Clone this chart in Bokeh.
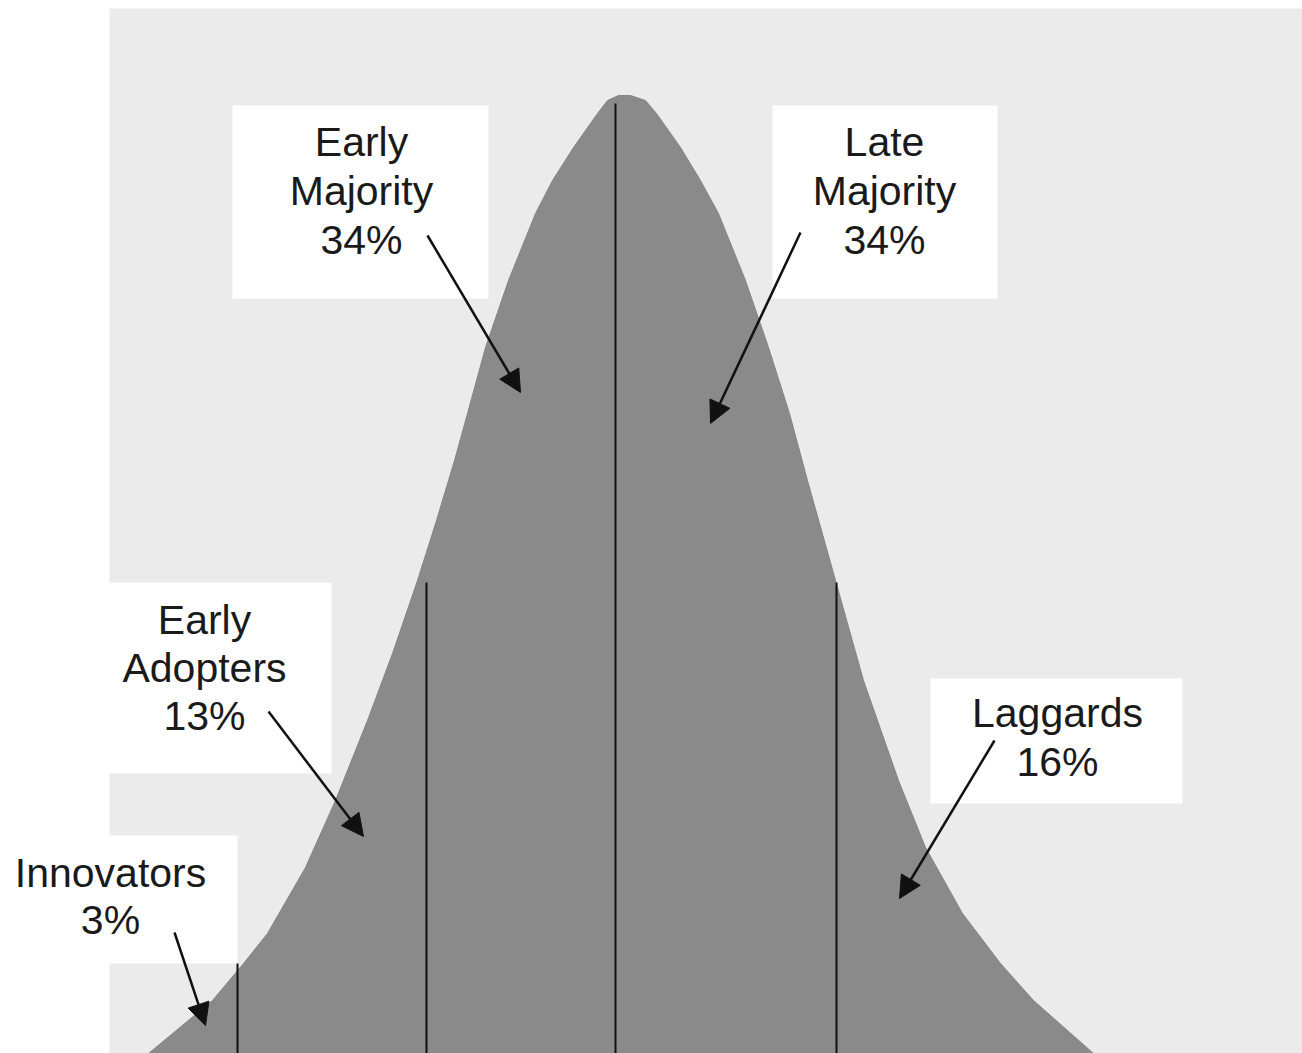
from bokeh.plotting import figure
from bokeh.models import Range1d, Arrow, NormalHead
from bokeh.embed import file_html
from bokeh.resources import INLINE
from bokeh.core.properties import value

# ---------------- data ----------------
segments = ["Innovators", "Early Adopters", "Early Majority", "Late Majority", "Laggards"]
shares = [3, 13, 34, 34, 16]

# adoption-time position of the category boundaries and the height of each divider
boundary_x = [237, 426, 615, 836]
boundary_top = [90, 471, 950, 471]

# bell curve outline: rising (left) side and falling (right) side
curve_left_x = [148, 212, 243, 267, 305, 335, 367, 392, 417, 436, 454, 467, 485, 508,
                535, 552, 573, 585, 597, 607, 618]
curve_left_h = [0, 53, 90, 120, 186, 253, 333, 400, 473, 533, 593, 640, 706, 773,
                840, 873, 906, 923, 940, 953, 958]
curve_right_x = [630, 645, 656, 668, 680, 700, 718, 745, 768, 789, 807, 835, 863, 898,
                 925, 962, 1000, 1033, 1093]
curve_right_h = [958, 953, 940, 923, 906, 873, 840, 773, 706, 640, 573, 473, 373, 273,
                 206, 140, 90, 53, 0]

# ---------------- layout (positions only) ----------------
W, H = 1302, 1053
X0, X1 = 0, 1302
Y0, Y1 = 0, 1053

bg_left, bg_top = 109, 1045
# label boxes: left, right, bottom, top
boxes = {
    "Innovators": (108, 237, 90, 218),
    "Early Adopters": (108, 331, 280, 471),
    "Early Majority": (232, 488, 755, 948),
    "Late Majority": (772, 997, 755, 948),
    "Laggards": (930, 1182, 250, 375),
}
# label text centre x, first baseline y, line step
labels_pos = {
    "Innovators": (110, 181, 47),
    "Early Adopters": (204, 434, 48),
    "Early Majority": (361, 912, 49),
    "Late Majority": (884, 912, 49),
    "Laggards": (1057, 341, 49),
}
# arrows: x_start, y_start, x_end, y_end
arrows = {
    "Innovators": (174, 121, 205, 28),
    "Early Adopters": (268, 342, 363, 217),
    "Early Majority": (427, 818, 520, 661),
    "Late Majority": (800, 821, 710, 630),
    "Laggards": (994, 313, 899, 155),
}

FONT = "Liberation Sans"

p = figure(width=W, height=H, x_range=Range1d(X0, X1), y_range=Range1d(Y0, Y1),
           output_backend="svg", toolbar_location=None, x_axis_type=None, y_axis_type=None,
           min_border=0, background_fill_color="#ffffff", border_fill_color="#ffffff",
           outline_line_color=None)
p.grid.visible = False

# light grey paper
p.quad(left=[bg_left], right=[X1], bottom=[Y0], top=[bg_top], fill_color="#ebebeb", line_color=None)

# white label boxes
bl, br, bb, bt = zip(*[boxes[s] for s in segments])
p.quad(left=list(bl), right=list(br), bottom=list(bb), top=list(bt),
       fill_color="#ffffff", line_color=None)

# bell curve
cx = curve_left_x + curve_right_x
ch = curve_left_h + curve_right_h
p.patch(cx, ch, fill_color="#8a8a8a", line_color="#858585", line_width=1)

# boundary lines
p.segment(x0=boundary_x, y0=[Y0] * len(boundary_x), x1=boundary_x, y1=boundary_top,
          line_color="#111111", line_width=2)

# labels
tx, ty, tt = [], [], []
for s, sh in zip(segments, shares):
    lines = s.split(" ") + [f"{sh}%"]
    cxp, y_first, step = labels_pos[s]
    for i, ln in enumerate(lines):
        tx.append(cxp)
        ty.append(y_first - i * step)
        tt.append(ln)
p.text(x=tx, y=ty, text=tt, text_font=value(FONT), text_font_size="41px",
       text_color="#1a1a1a", text_align="center", text_baseline="alphabetic")

# arrows
for s in segments:
    xs, ys, xe, ye = arrows[s]
    p.add_layout(Arrow(end=NormalHead(size=22, fill_color="#111111", line_color="#111111"),
                       x_start=xs, y_start=ys, x_end=xe, y_end=ye,
                       line_color="#111111", line_width=2.5))

open("out.html", "w").write(file_html(p, INLINE))
